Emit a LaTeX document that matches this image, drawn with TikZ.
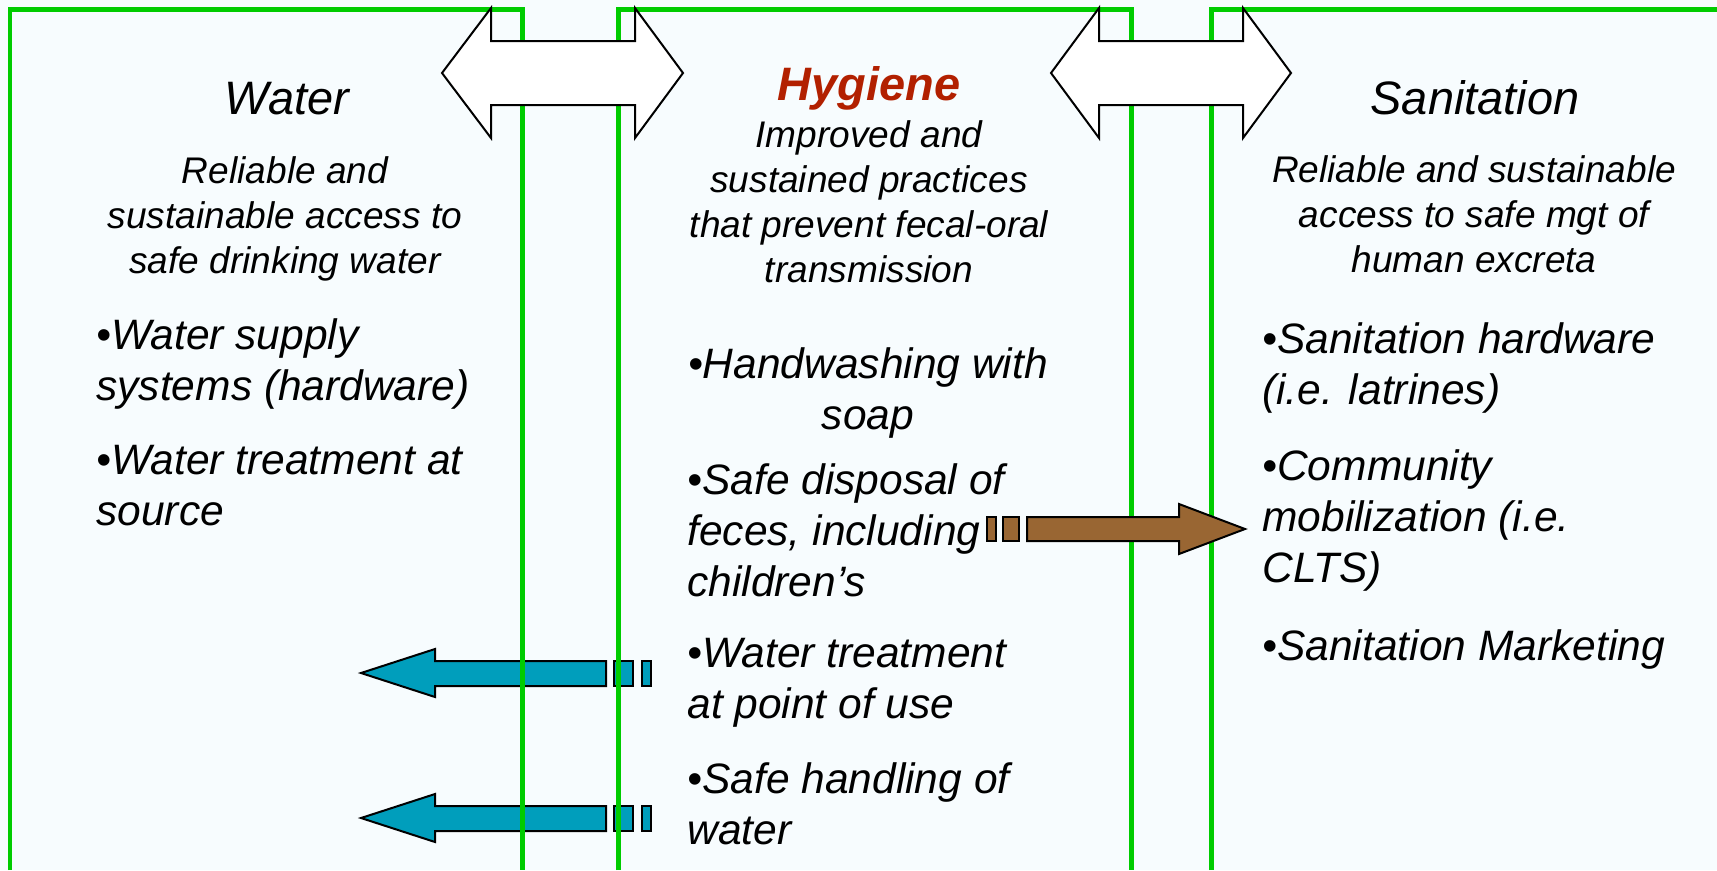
\documentclass[tikz,border=0pt]{standalone}
\usepackage{fontspec}
\setmainfont{Liberation Sans}
\usepackage{tikz}
\usetikzlibrary{positioning}

\definecolor{panelgreen}{RGB}{0,204,0}
\definecolor{hygred}{RGB}{178,32,0}
\definecolor{waterblue}{RGB}{0,158,188}
\definecolor{fecesbrown}{RGB}{153,102,51}
\definecolor{bgtint}{RGB}{247,252,254}

\tikzset{
  panel/.style={draw=panelgreen, line width=0.1cm},
  blockarrow/.style={draw=black, line width=0.04cm, line join=miter},
  title/.style={font=\fontsize{26.7}{32}\selectfont\itshape, inner sep=0pt},
  hygtitle/.style={font=\fontsize{26.7}{32}\selectfont\bfseries\itshape, text=hygred, inner sep=0pt},
  body/.style={font=\fontsize{21.1}{25.6}\selectfont\itshape, align=center, inner sep=0pt},
  item/.style={font=\fontsize{24.2}{29}\selectfont\itshape, align=left, inner sep=0pt},
}

\begin{document}
\begin{tikzpicture}[x=0.02cm, y=-0.02cm]
        % Background
        \useasboundingbox (0,0) rectangle (1717,870);
        \fill[bgtint] (0,0) rectangle (1717,870);

        % Draw the blue arrows (under the panels)
        \filldraw[blockarrow, fill=waterblue] (361,673) -- (435,649) -- (435,661) -- (606,661) -- (606,686) -- (435,686) -- (435,697) -- cycle;
        \filldraw[blockarrow, fill=waterblue] (614,661) rectangle (633,686);
        \filldraw[blockarrow, fill=waterblue] (642,661) rectangle (651,686);
        \filldraw[blockarrow, fill=waterblue] (361,818) -- (435,794) -- (435,806) -- (606,806) -- (606,831) -- (435,831) -- (435,842) -- cycle;
        \filldraw[blockarrow, fill=waterblue] (614,806) rectangle (633,831);
        \filldraw[blockarrow, fill=waterblue] (642,806) rectangle (651,831);

        % Draw the panels
        \draw[panel] (10,870) -- (10,9) -- (522,9) -- (522,870);
        \draw[panel] (618,870) -- (618,9) -- (1131,9) -- (1131,870);
        \draw[panel] (1211,870) -- (1211,9) -- (1717,9);

        % Draw the brown arrow
        \filldraw[blockarrow, fill=fecesbrown] (987,517) rectangle (996,541);
        \filldraw[blockarrow, fill=fecesbrown] (1003,517) rectangle (1019,541);
        \filldraw[blockarrow, fill=fecesbrown] (1027,517) -- (1179,517) -- (1179,504) -- (1245,529) -- (1179,554) -- (1179,541) -- (1027,541) -- cycle;

        % Draw the double arrows
        \filldraw[blockarrow, fill=white] (442,73) -- (491,8) -- (491,41) -- (635,41) -- (635,8) -- (683,73) -- (635,138) -- (635,105) -- (491,105) -- (491,138) -- cycle;
        \filldraw[blockarrow, fill=white] (1051,73) -- (1099,8) -- (1099,41) -- (1243,41) -- (1243,8) -- (1291,73) -- (1243,138) -- (1243,105) -- (1099,105) -- (1099,138) -- cycle;

        % Draw the titles
        \node[title, anchor=base] (water) at (287,114) {Water};
        \node[hygtitle, anchor=base] (hygiene) at (869,100) {Hygiene};
        \node[title, anchor=base] (sanitation) at (1475,114) {Sanitation};

        % Draw the definitions (base = last line)
        \node[body, anchor=base] (waterdef) at (285,273) {Reliable and\\ sustainable access to\\ safe drinking water};
        \node[body, anchor=base] (hygdef) at (869,282) {Improved and\\ sustained practices\\ that prevent fecal-oral\\ transmission};
        \node[body, anchor=base] (sandef) at (1474,272) {Reliable and sustainable\\ access to safe mgt of\\ human excreta};

        % Draw the bullets (base = last line)
        \node[item, anchor=base west] (wsupply) at (96,400) {•Water supply\\ systems (hardware)};
        \node[item, anchor=base west] (wtreat) at (96,525) {•Water treatment at\\ source};
        \node[item, anchor=base, align=center] (handwash) at (868,429) {•Handwashing with\\ soap};
        \node[item, anchor=base west] (disposal) at (687,596) {•Safe disposal of\\ feces, including\\ children’s};
        \node[item, anchor=base west] (pou) at (687,718) {•Water treatment\\ at point of use};
        \node[item, anchor=base west] (handling) at (687,844) {•Safe handling of\\ water};
        \node[item, anchor=base west] (shardware) at (1262,404) {•Sanitation hardware\\ (i.e. latrines)};
        \node[item, anchor=base west] (community) at (1262,582) {•Community\\ mobilization (i.e.\\ CLTS)};
        \node[item, anchor=base west] (marketing) at (1262,660) {•Sanitation Marketing};
    \end{tikzpicture}
\end{document}
